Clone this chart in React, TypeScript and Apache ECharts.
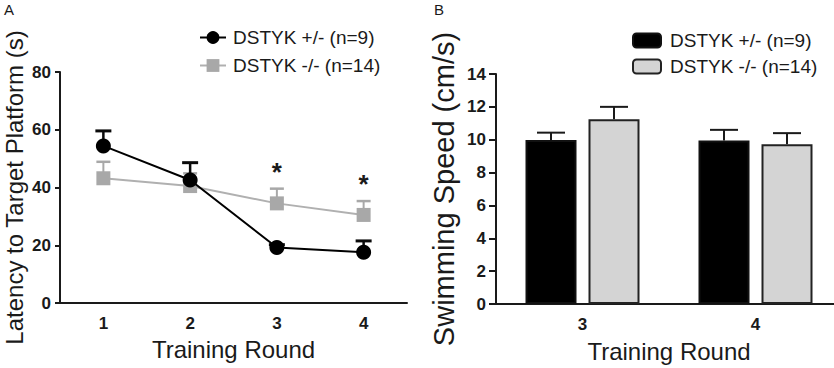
import React, { useEffect, useRef } from "react";
import * as echarts from "echarts";

// ---- Data: panel A (latency) ----
const rounds = ["1", "2", "3", "4"];
const latencyHet = [54.4, 42.6, 19.2, 17.6];
const latencyHetErr = [5.2, 6.0, 1.0, 3.9];
const latencyKo = [43.2, 40.5, 34.5, 30.5];
const latencyKoErr = [5.7, 4.4, 5.1, 4.8];
const sigFlags = [false, false, true, true];

// ---- Data: panel B (swimming speed) ----
const speedRounds = ["3", "4"];
const speedHet = [9.98, 9.95];
const speedHetErr = [0.45, 0.65];
const speedKo = [11.25, 9.73];
const speedKoErr = [0.75, 0.67];

const hetName = "DSTYK +/- (n=9)";
const koName = "DSTYK -/- (n=14)";

const FONT = "'Liberation Sans', Arial, Helvetica, sans-serif";
const BAR_W = 51;
const BAR_GAP_PX = 10;

export default function App() {
  const ref = useRef<HTMLDivElement>(null);

  useEffect(() => {
    if (!ref.current) return;
    const chart = echarts.init(ref.current, undefined, { renderer: "svg" });

    const axisLine = { show: true, lineStyle: { color: "#1a1a1a", width: 2 } };
    const tickLabel = { color: "#1a1a1a", fontSize: 17, fontWeight: "bold" as const, fontFamily: FONT };

    const lineErr = (means: number[], errs: number[], color: string, capHalf: number, lw: number) =>
      (params: any, api: any) => {
        const i = params.dataIndex;
        const base = api.coord([i, means[i]]);
        const top = api.coord([i, means[i] + errs[i]]);
        return {
          type: "group",
          children: [
            { type: "line", shape: { x1: base[0], y1: base[1], x2: top[0], y2: top[1] }, style: { stroke: color, lineWidth: lw } },
            { type: "line", shape: { x1: top[0] - capHalf, y1: top[1], x2: top[0] + capHalf, y2: top[1] }, style: { stroke: color, lineWidth: lw + 0.5 } },
          ],
        };
      };

    const barErr = (means: number[], errs: number[], side: number) =>
      (params: any, api: any) => {
        const i = params.dataIndex;
        const off = side * (BAR_W + 2 + BAR_GAP_PX) / 2;
        const base = api.coord([i, means[i]]);
        const top = api.coord([i, means[i] + errs[i]]);
        const x = base[0] + off;
        return {
          type: "group",
          children: [
            { type: "line", shape: { x1: x, y1: base[1], x2: x, y2: top[1] }, style: { stroke: "#1a1a1a", lineWidth: 2 } },
            { type: "line", shape: { x1: x - 14, y1: top[1], x2: x + 14, y2: top[1] }, style: { stroke: "#1a1a1a", lineWidth: 2 } },
          ],
        };
      };

    chart.setOption({
      animation: false,
      textStyle: { fontFamily: FONT },
      graphic: [
        { type: "text", left: 4, top: 2, style: { text: "A", fontSize: 15, fontFamily: FONT, fill: "#1a1a1a" } },
        { type: "text", left: 434, top: 2, style: { text: "B", fontSize: 15, fontFamily: FONT, fill: "#1a1a1a" } },
      ],
      legend: [
        {
          data: [hetName, koName],
          orient: "vertical",
          left: 194,
          top: 23,
          itemWidth: 26,
          itemHeight: 16,
          itemGap: 9,
          textStyle: { fontSize: 19, fontFamily: FONT, color: "#1a1a1a", padding: [0, 0, 0, 2] },
        },
        {
          data: ["b_" + hetName, "b_" + koName],
          orient: "vertical",
          left: 627,
          top: 26,
          itemWidth: 28,
          itemHeight: 14,
          itemGap: 7,
          formatter: (n: string) => n.slice(2),
          textStyle: { fontSize: 19, fontFamily: FONT, color: "#1a1a1a", padding: [0, 0, 0, 4] },
        },
      ],
      grid: [
        { left: 60, top: 72, width: 347, height: 231, outerBoundsMode: "none", containLabel: false },
        { left: 496, top: 74, width: 346, height: 230, outerBoundsMode: "none", containLabel: false },
      ],
      xAxis: [
        {
          type: "category",
          gridIndex: 0,
          data: rounds,
          axisLine,
          axisTick: { alignWithLabel: true, length: 6, lineStyle: { color: "#1a1a1a", width: 2 } },
          axisLabel: { ...tickLabel, margin: 12 },
          name: "Training Round",
          nameLocation: "middle",
          nameGap: 34,
          nameTextStyle: { fontSize: 24, fontFamily: FONT, color: "#1a1a1a" },
        },
        {
          type: "category",
          gridIndex: 1,
          data: speedRounds,
          axisLine,
          axisTick: { alignWithLabel: true, length: 6, lineStyle: { color: "#1a1a1a", width: 2 } },
          axisLabel: { ...tickLabel, margin: 12 },
          name: "Training Round",
          nameLocation: "middle",
          nameGap: 35,
          nameTextStyle: { fontSize: 24, fontFamily: FONT, color: "#1a1a1a" },
        },
      ],
      yAxis: [
        {
          type: "value",
          gridIndex: 0,
          min: 0,
          max: 80,
          interval: 20,
          axisLine,
          axisTick: { show: true, length: 5, lineStyle: { color: "#1a1a1a", width: 2 } },
          splitLine: { show: false },
          axisLabel: { ...tickLabel, margin: 9 },
          name: "Latency to Target Platform (s)",
          nameLocation: "middle",
          nameRotate: 90,
          nameGap: 34,
          nameTextStyle: { fontSize: 24, fontFamily: FONT, color: "#1a1a1a" },
        },
        {
          type: "value",
          gridIndex: 1,
          min: 0,
          max: 14,
          interval: 2,
          axisLine,
          axisTick: { show: true, length: 7, lineStyle: { color: "#1a1a1a", width: 2 } },
          splitLine: { show: false },
          axisLabel: { ...tickLabel, margin: 10 },
          name: "Swimming Speed (cm/s)",
          nameLocation: "middle",
          nameRotate: 90,
          nameGap: 38,
          nameTextStyle: { fontSize: 29, fontFamily: FONT, color: "#1a1a1a" },
        },
      ],
      series: [
        {
          type: "custom",
          xAxisIndex: 0,
          yAxisIndex: 0,
          data: latencyKo,
          renderItem: lineErr(latencyKo, latencyKoErr, "#a8a8a8", 7, 2),
          z: 1,
        },
        {
          type: "custom",
          xAxisIndex: 0,
          yAxisIndex: 0,
          data: latencyHet,
          renderItem: lineErr(latencyHet, latencyHetErr, "#0a0a0a", 8, 2.5),
          z: 1,
        },
        {
          name: koName,
          type: "line",
          xAxisIndex: 0,
          yAxisIndex: 0,
          data: latencyKo,
          symbol: "rect",
          symbolSize: 14,
          color: "#a8a8a8",
          lineStyle: { color: "#b0b0b0", width: 2 },
          itemStyle: { color: "#a8a8a8" },
          z: 3,
        },
        {
          name: hetName,
          type: "line",
          xAxisIndex: 0,
          yAxisIndex: 0,
          data: latencyHet,
          symbol: "circle",
          symbolSize: 15,
          color: "#000",
          lineStyle: { color: "#000", width: 2 },
          itemStyle: { color: "#000" },
          z: 4,
        },
        {
          type: "custom",
          xAxisIndex: 0,
          yAxisIndex: 0,
          data: latencyKo,
          renderItem: (params: any, api: any) => {
            const i = params.dataIndex;
            if (!sigFlags[i]) return null;
            const p = api.coord([i, latencyKo[i] + latencyKoErr[i]]);
            return {
              type: "text",
              x: p[0],
              y: p[1] - 4,
              style: { text: "*", fontSize: 26, fontWeight: "bold", fontFamily: FONT, fill: "#1a1a1a", align: "center", verticalAlign: "bottom" },
            };
          },
          z: 5,
        },
        {
          name: "b_" + hetName,
          type: "bar",
          xAxisIndex: 1,
          yAxisIndex: 1,
          data: speedHet,
          barWidth: BAR_W,
          barGap: ((BAR_GAP_PX + 2) / BAR_W) * 100 + "%",
          itemStyle: { color: "#000", borderColor: "#111", borderWidth: 2 },
          z: 2,
        },
        {
          name: "b_" + koName,
          type: "bar",
          xAxisIndex: 1,
          yAxisIndex: 1,
          data: speedKo,
          barWidth: BAR_W,
          itemStyle: { color: "#d4d4d4", borderColor: "#222", borderWidth: 2 },
          z: 2,
        },
        {
          type: "custom",
          xAxisIndex: 1,
          yAxisIndex: 1,
          data: speedHet,
          renderItem: barErr(speedHet, speedHetErr, -1),
          z: 1,
        },
        {
          type: "custom",
          xAxisIndex: 1,
          yAxisIndex: 1,
          data: speedKo,
          renderItem: barErr(speedKo, speedKoErr, 1),
          z: 1,
        },
      ],
    });

    return () => chart.dispose();
  }, []);

  return (
    <div
      ref={ref}
      style={{ position: "fixed", left: 0, top: 0, width: 834, height: 368, background: "#fff" }}
    />
  );
}
